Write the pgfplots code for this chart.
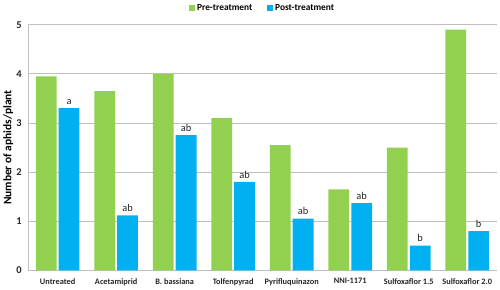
\documentclass[border=0pt]{standalone}
\usepackage{pgfplots}
\pgfplotsset{compat=1.18}
\usepackage{fontspec}
\setmainfont{Carlito}
\definecolor{pregreen}{HTML}{92D050}
\definecolor{postblue}{HTML}{00B0F0}
\definecolor{gridgray}{HTML}{BFBFBF}

\begin{document}
\begin{tikzpicture}
\begin{axis}[
    width=450pt, height=236pt, scale only axis,
    ybar, bar width=20pt,
    ymin=0, ymax=5, ytick={0,1,2,3,4,5},
    /pgf/number format/assume math mode=true,
    xmin=-0.5, xmax=7.5,
    xtick={0,...,7},
    xticklabels={Untreated, Acetamiprid, B. bassiana, Tolfenpyrad, Pyrifluquinazon, NNI-1171, Sulfoxaflor 1.5, Sulfoxaflor 2.0},
    major x tick style={draw=none},
    extra x ticks={-0.5,0.5,...,7.5},
    extra x tick labels={},
    extra x tick style={grid=none, tick align=outside, major tick length=4pt, tick style={draw=gridgray, thick}},
    axis lines*=left,
    axis line style={draw=gridgray, thick, -},
    ymajorgrids, grid style={draw=gridgray, thick},
    major y tick style={draw=none},
    tick label style={font=\bfseries\fontsize{8}{9}\selectfont, text=black!85},
    yticklabel style={font=\bfseries\fontsize{10}{11}\selectfont, xshift=-3pt},
    ylabel={\bfseries Number of aphids/plant},
    ylabel style={font=\fontsize{11}{12}\selectfont, yshift=-4pt},
    legend style={at={(0.5,1.035)}, anchor=south, draw=none, legend columns=2,
        font=\bfseries\fontsize{9}{10}\selectfont, /tikz/every even column/.append style={column sep=12pt}},
    legend image code/.code={\fill[#1] (0pt,-3pt) rectangle (6pt,3pt);},
    nodes near coords style={font=\fontsize{10}{11}\selectfont, text=black!85},
]
\addplot[fill=pregreen, draw=none] coordinates {
    (0,3.95) (1,3.65) (2,4.0) (3,3.1) (4,2.55) (5,1.65) (6,2.5) (7,4.9)
};
\addplot[fill=postblue, draw=none, point meta=explicit symbolic, nodes near coords] coordinates {
    (0,3.3)[a] (1,1.12)[ab] (2,2.75)[ab] (3,1.8)[ab] (4,1.05)[ab] (5,1.37)[ab] (6,0.5)[b] (7,0.8)[b]
};
\legend{Pre-treatment, Post-treatment}
\end{axis}
\end{tikzpicture}
\end{document}
